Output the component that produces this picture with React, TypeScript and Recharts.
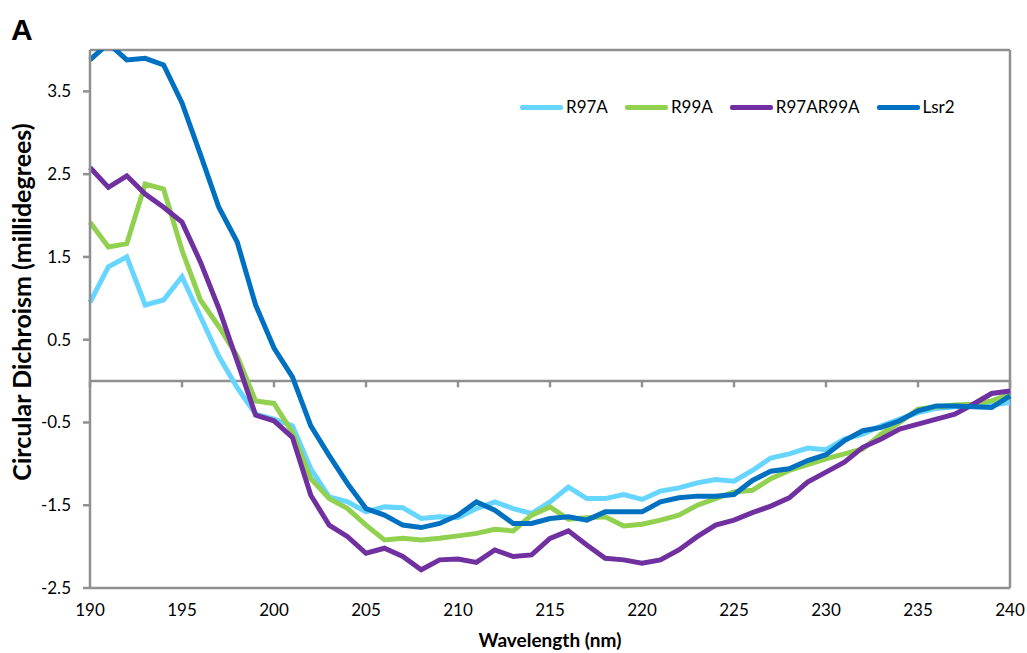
import { LineChart, XAxis, YAxis, Line, ReferenceLine } from "recharts";

const wavelengths = [
    190, 191, 192, 193, 194, 195, 196, 197, 198, 199,
    200, 201, 202, 203, 204, 205, 206, 207, 208, 209,
    210, 211, 212, 213, 214, 215, 216, 217, 218, 219,
    220, 221, 222, 223, 224, 225, 226, 227, 228, 229,
    230, 231, 232, 233, 234, 235, 236, 237, 238, 239, 240,
];

const r97a = [
    0.95, 1.38, 1.5, 0.92, 0.98, 1.26, 0.78, 0.3, -0.08, -0.4,
    -0.46, -0.54, -1.06, -1.4, -1.46, -1.58, -1.52, -1.53, -1.66, -1.64,
    -1.65, -1.54, -1.46, -1.54, -1.6, -1.46, -1.28, -1.42, -1.42, -1.37,
    -1.43, -1.33, -1.29, -1.23, -1.19, -1.21, -1.08, -0.93, -0.88, -0.81,
    -0.83, -0.7, -0.64, -0.54, -0.46, -0.38, -0.33, -0.31, -0.29, -0.29, -0.26,
];

const r99a = [
    1.92, 1.62, 1.66, 2.38, 2.32, 1.58, 0.98, 0.66, 0.3, -0.24,
    -0.27, -0.62, -1.18, -1.42, -1.54, -1.74, -1.92, -1.9, -1.92, -1.9,
    -1.87, -1.84, -1.79, -1.81, -1.62, -1.52, -1.67, -1.65, -1.64, -1.75,
    -1.73, -1.68, -1.62, -1.5, -1.42, -1.34, -1.32, -1.18, -1.08, -1.01,
    -0.94, -0.88, -0.82, -0.64, -0.5, -0.34, -0.31, -0.29, -0.28, -0.24, -0.16,
];

const r97ar99a = [
    2.58, 2.34, 2.48, 2.26, 2.1, 1.92, 1.44, 0.88, 0.24, -0.41,
    -0.48, -0.68, -1.38, -1.74, -1.88, -2.08, -2.02, -2.12, -2.28, -2.16,
    -2.15, -2.19, -2.04, -2.12, -2.1, -1.9, -1.81, -1.98, -2.14, -2.16,
    -2.2, -2.16, -2.04, -1.88, -1.74, -1.68, -1.59, -1.51, -1.41, -1.22,
    -1.1, -0.98, -0.8, -0.7, -0.58, -0.52, -0.46, -0.4, -0.28, -0.15, -0.12,
];

const lsr2 = [
    3.88, 4.08, 3.88, 3.9, 3.82, 3.36, 2.74, 2.1, 1.68, 0.92,
    0.4, 0.05, -0.54, -0.9, -1.24, -1.54, -1.62, -1.74, -1.77, -1.72,
    -1.62, -1.46, -1.56, -1.72, -1.72, -1.66, -1.64, -1.68, -1.58, -1.58,
    -1.58, -1.46, -1.41, -1.39, -1.39, -1.37, -1.2, -1.09, -1.06, -0.96,
    -0.89, -0.72, -0.6, -0.56, -0.48, -0.36, -0.3, -0.3, -0.31, -0.32, -0.18,
];

const xTicks = [190, 195, 200, 205, 210, 215, 220, 225, 230, 235, 240];
const yTicks = [-2.5, -1.5, -0.5, 0.5, 1.5, 2.5, 3.5];

const series = [
    { key: "R97A", color: "#66D5FF" },
    { key: "R99A", color: "#92D050" },
    { key: "R97AR99A", color: "#7030A0" },
    { key: "Lsr2", color: "#0070C0" },
];

const data = wavelengths.map((w, i) => ({
    nm: w,
    R97A: r97a[i],
    R99A: r99a[i],
    R97AR99A: r97ar99a[i],
    Lsr2: lsr2[i],
}));

const gray = "#909090";
const font = "Lato, 'Open Sans', sans-serif";

function LegendBox() {
    return (
        <div
            style={{
                position: "absolute",
                left: 520,
                top: 96,
                display: "flex",
                alignItems: "center",
                fontFamily: font,
                fontSize: 17,
                color: "#000",
                lineHeight: "22px",
            }}
        >
            {series.map((s) => (
                <div key={s.key} style={{ display: "flex", alignItems: "center", marginRight: 17 }}>
                    <div style={{ width: 43, height: 5, background: s.color, borderRadius: 2, marginRight: 3 }} />
                    <span>{s.key}</span>
                </div>
            ))}
        </div>
    );
}

export default function App() {
    return (
        <div style={{ position: "absolute", left: 0, top: 0, width: 1027, height: 653, overflow: "hidden", background: "#fff" }}>
            <div style={{ position: "absolute", left: 11, top: 13, fontFamily: "'Liberation Sans', Arial, sans-serif", fontWeight: "bold", fontSize: 30 }}>
                A
            </div>
            <LineChart
                width={1027}
                height={653}
                data={data}
                margin={{ top: 50, right: 17, left: 0, bottom: 0 }}
            >
                <XAxis
                    dataKey="nm"
                    type="number"
                    domain={[190, 240]}
                    ticks={xTicks}
                    height={65}
                    tickLine={false}
                    tickSize={6}
                    tickMargin={10}
                    axisLine={{ stroke: gray, strokeWidth: 2.5 }}
                    tick={{ fill: "#000", fontSize: 17, fontFamily: font }}
                    label={{
                        value: "Wavelength (nm)",
                        position: "insideBottom",
                        offset: 6,
                        style: { fill: "#000", fontSize: 19, fontWeight: "bold", fontFamily: font },
                    }}
                />
                <YAxis
                    type="number"
                    domain={[-2.5, 4]}
                    ticks={yTicks}
                    allowDataOverflow
                    width={90}
                    tickSize={7}
                    tickMargin={12}
                    tickLine={{ stroke: gray, strokeWidth: 2.5 }}
                    axisLine={{ stroke: gray, strokeWidth: 2.5 }}
                    tick={{ fill: "#000", fontSize: 17, fontFamily: font }}
                    label={{
                        content: () => (
                            <text
                                transform="translate(31,302) rotate(-90)"
                                textAnchor="middle"
                                fill="#000"
                                fontSize={25}
                                fontWeight="bold"
                                fontFamily={font}
                            >
                                Circular Dichroism (millidegrees)
                            </text>
                        ),
                    }}
                />
                <ReferenceLine y={4} stroke={gray} strokeWidth={2.5} />
                <ReferenceLine x={240} stroke={gray} strokeWidth={2.5} />
                <ReferenceLine y={0} stroke={gray} strokeWidth={2.5} />
                {xTicks.map((t) => (
                    <ReferenceLine
                        key={t}
                        segment={[{ x: t, y: 0 }, { x: t, y: -0.075 }]}
                        stroke={gray}
                        strokeWidth={2.5}
                    />
                ))}
                {series.map((s) => (
                    <Line
                        key={s.key}
                        type="linear"
                        dataKey={s.key}
                        stroke={s.color}
                        strokeWidth={5}
                        dot={false}
                        isAnimationActive={false}
                    />
                ))}
            </LineChart>
            <LegendBox />
        </div>
    );
}
